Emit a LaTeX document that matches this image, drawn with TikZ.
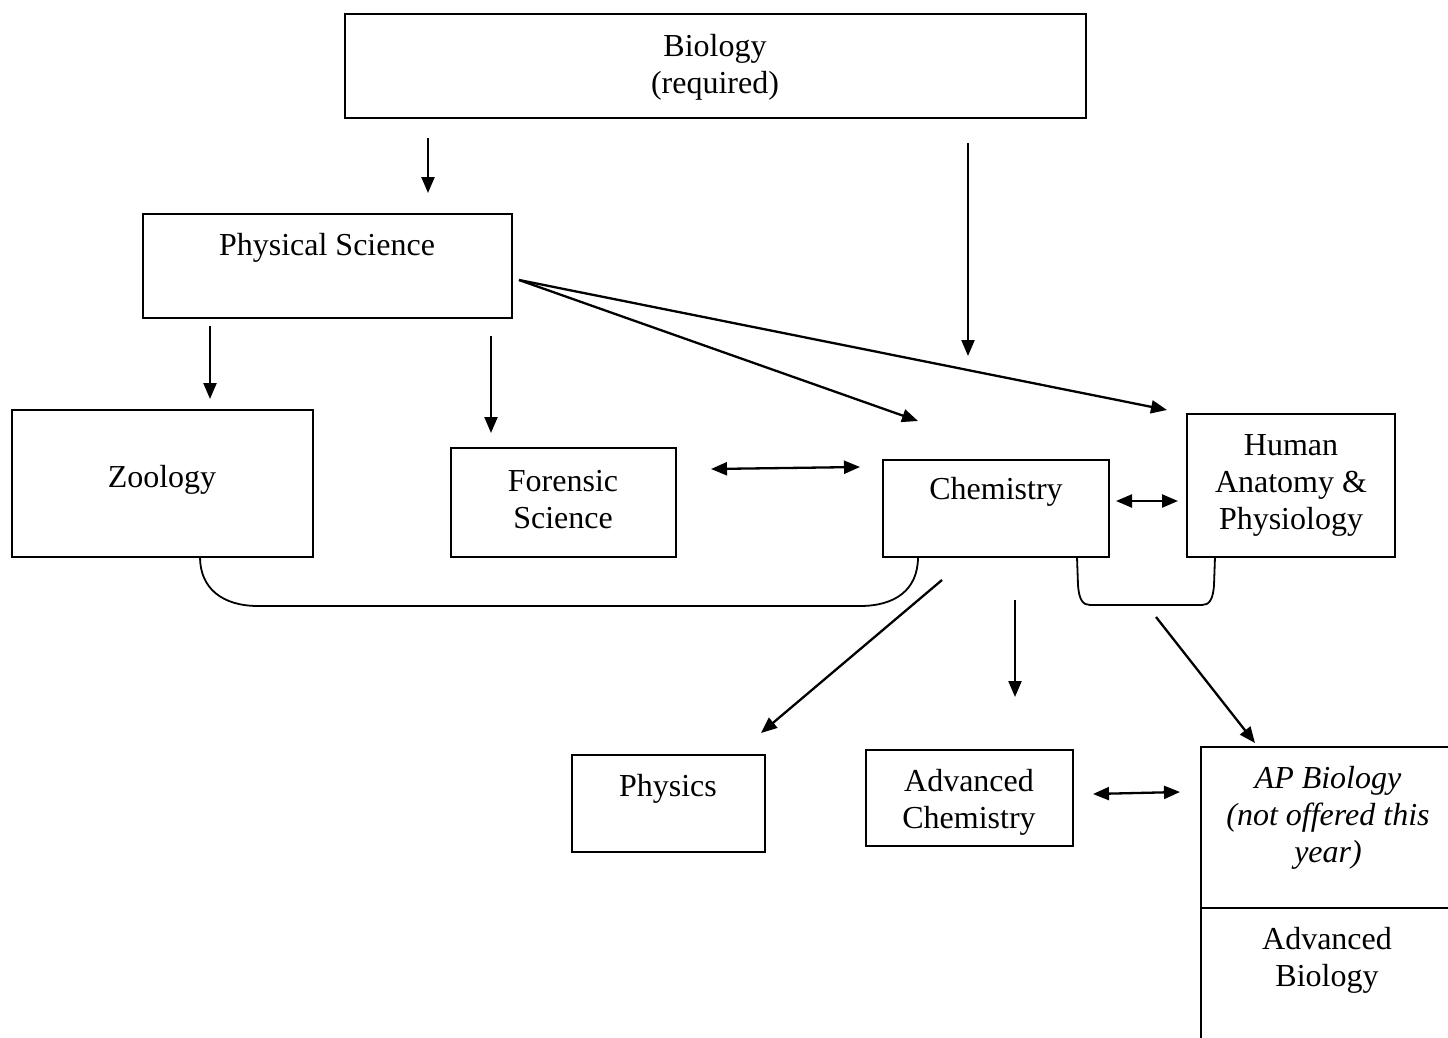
\documentclass[tikz,border=0pt]{standalone}
\usepackage{fontspec}
\setmainfont{Liberation Serif}
\usetikzlibrary{arrows.meta}
\begin{document}
\begin{tikzpicture}[x=1pt,y=-1pt,
  box/.style={draw,line width=1.8pt,inner sep=0pt},
  txt/.style={align=center,inner sep=0pt,font=\fontsize{32}{37}\selectfont},
  arr/.style={line width=2.3pt,-{Triangle[length=16pt,width=13pt]}},
  darr/.style={line width=2.3pt,{Triangle[length=16pt,width=13pt]}-{Triangle[length=16pt,width=13pt]}},
  brk/.style={line width=1.8pt}]
\useasboundingbox[fill=white] (0,0) rectangle (1448,1038);
\begin{scope}
\clip (0,0) rectangle (1448,1038);
% boxes
\node[box,minimum width=741pt,minimum height=104pt] (bio) at (715.5,66) {};
\node[box,minimum width=369pt,minimum height=104pt] (phys) at (327.5,266) {};
\node[box,minimum width=301pt,minimum height=147pt] (zoo) at (162.5,483.5) {};
\node[box,minimum width=225pt,minimum height=109pt] (for) at (563.5,502.5) {};
\node[box,minimum width=226pt,minimum height=97pt] (chem) at (996,508.5) {};
\node[box,minimum width=208pt,minimum height=143pt] (hap) at (1291,485.5) {};
\node[box,minimum width=193pt,minimum height=97pt] (physics) at (668.5,803.5) {};
\node[box,minimum width=207pt,minimum height=96pt] (achem) at (969.5,798) {};
\node[box,minimum width=270pt,minimum height=161pt] (ap) at (1336,827.5) {};
\node[box,minimum width=270pt,minimum height=150pt] (abio) at (1336,983) {};
\end{scope}
% texts
\node[txt] (biot) at (715,67) {Biology\\(required)};
\node[txt] (physt) at (327,248) {Physical Science};
\node[txt] (zoot) at (162,480) {Zoology};
\node[txt] (fort) at (563,500) {Forensic\\Science};
\node[txt] (chemt) at (996,492) {Chemistry};
\node[txt] (hapt) at (1291,485) {Human\\Anatomy \&\\Physiology};
\node[txt] (physicst) at (668,789) {Physics};
\node[txt] (achemt) at (969,802) {Advanced\\Chemistry};
\node[txt,font=\fontsize{32}{37}\selectfont\itshape] (apt) at (1328,818) {AP Biology\\(not offered this\\year)};
\node[txt] (abiot) at (1327,960) {Advanced\\Biology};
% arrow endpoints
\coordinate (a1s) at (428,138); \coordinate (a1e) at (428,193);
\coordinate (a2s) at (968,143); \coordinate (a2e) at (968,356);
\coordinate (a3s) at (519,280); \coordinate (a3e) at (918,421);
\coordinate (a4e) at (1167,410);
\coordinate (a5s) at (210,326); \coordinate (a5e) at (210,399);
\coordinate (a6s) at (491,336); \coordinate (a6e) at (491,433);
\coordinate (d1s) at (711,469); \coordinate (d1e) at (860,467);
\coordinate (d2s) at (1116,501); \coordinate (d2e) at (1178,501);
\coordinate (a7s) at (1015,600); \coordinate (a7e) at (1015,697);
\coordinate (a8s) at (942,580); \coordinate (a8e) at (761,733);
\coordinate (a9s) at (1156,617); \coordinate (a9e) at (1255,743);
\coordinate (d3s) at (1093,794); \coordinate (d3e) at (1180,792);
\draw[arr] (a1s) -- (a1e);
\draw[arr] (a2s) -- (a2e);
\draw[arr] (a3s) -- (a3e);
\draw[arr] (a3s) -- (a4e);
\draw[arr] (a5s) -- (a5e);
\draw[arr] (a6s) -- (a6e);
\draw[darr] (d1s) -- (d1e);
\draw[darr] (d2s) -- (d2e);
\draw[arr] (a7s) -- (a7e);
\draw[arr] (a8s) -- (a8e);
\draw[arr] (a9s) -- (a9e);
\draw[darr] (d3s) -- (d3e);
% brackets
\coordinate (b1s) at (200,557); \coordinate (b1e) at (918,557);
\draw[brk] (b1s) .. controls (200,588) and (222,606) .. (258,606) -- (860,606) .. controls (895,606) and (918,590) .. (b1e);
\coordinate (b2s) at (1077,557); \coordinate (b2e) at (1215,557);
\draw[brk] (b2s) -- (1078,585) .. controls (1079,600) and (1083,605) .. (1090,605) -- (1202,605) .. controls (1209,605) and (1213,600) .. (1214,585) -- (b2e);
\end{tikzpicture}
\end{document}
